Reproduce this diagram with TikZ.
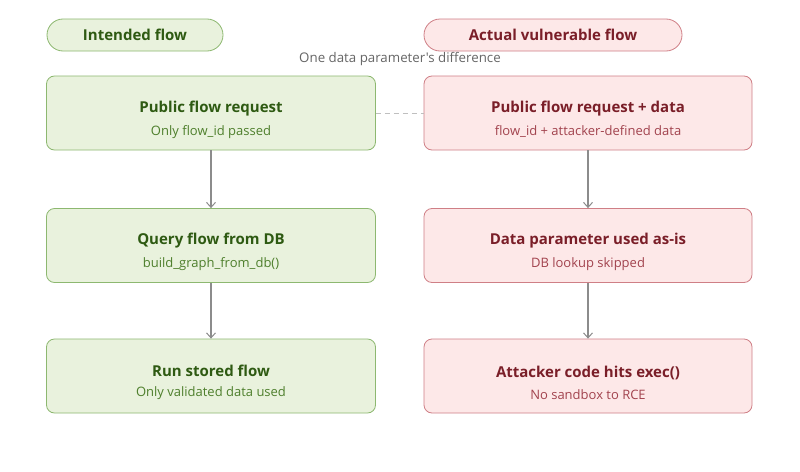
\documentclass[tikz,border=0pt]{standalone}
\usepackage{fontspec}
\setmainfont{Open Sans}[Ligatures=TeXOff]
\usetikzlibrary{arrows.meta}
\definecolor{gfill}{HTML}{E9F2DD}
\definecolor{gdraw}{HTML}{8DB870}
\definecolor{gtitle}{HTML}{2E5A12}
\definecolor{gsub}{HTML}{4E7F2C}
\definecolor{rfill}{HTML}{FDE8E8}
\definecolor{rdraw}{HTML}{CF7F86}
\definecolor{rtitle}{HTML}{7A1E28}
\definecolor{rsub}{HTML}{A2434E}
\tikzset{
  gbox/.style={draw=gdraw, fill=gfill, rounded corners=8pt, line width=0.8pt, minimum width=329pt, minimum height=74pt, inner sep=0pt},
  rbox/.style={draw=rdraw, fill=rfill, rounded corners=8pt, line width=0.8pt, minimum width=328pt, minimum height=74pt, inner sep=0pt},
  boxtext/.style={align=center, inner sep=0pt},
  gpill/.style={draw=gdraw, fill=gfill, rounded corners=16pt, line width=0.8pt, minimum width=176pt, minimum height=32pt, inner sep=0pt, text=gtitle, font=\fontsize{15}{18}\selectfont\bfseries},
  rpill/.style={draw=rdraw, fill=rfill, rounded corners=16pt, line width=0.8pt, minimum width=258pt, minimum height=32pt, inner sep=0pt, text=rtitle, font=\fontsize{15}{18}\selectfont\bfseries},
  flowarrow/.style={draw=black!45, line width=1.5pt, -{Straight Barb[length=5pt,width=9pt,line width=1pt]}},
}
\newcommand{\gtxt}[2]{{\color{gtitle}\fontsize{15}{18}\selectfont\bfseries #1}\\[8.5pt]{\color{gsub}\fontsize{13}{16}\selectfont #2}}
\newcommand{\rtxt}[2]{{\color{rtitle}\fontsize{15}{18}\selectfont\bfseries #1}\\[8.5pt]{\color{rsub}\fontsize{13}{16}\selectfont #2}}
\begin{document}
\begin{tikzpicture}[x=1pt,y=-1pt]
\useasboundingbox[fill=white] (0,0) rectangle (800,471);
\node[gpill] (gp) at (135,35) {Intended flow};
\node[rpill] (rp) at (553,35) {Actual vulnerable flow};
\node[text=black!60, font=\fontsize{13.3}{16}\selectfont] (diff) at (400,59) {One data parameter's difference};
\node[gbox] (g1) at (211,113) {};
\node[gbox] (g2) at (211,245.5) {};
\node[gbox] (g3) at (211,376) {};
\node[rbox] (r1) at (588,113) {};
\node[rbox] (r2) at (588,245.5) {};
\node[rbox] (r3) at (588,376) {};
\node[boxtext] (g1t) at ([yshift=-6.5pt]g1.center) {\gtxt{Public flow request}{Only flow\_id passed}};
\node[boxtext] (g2t) at ([yshift=-6.5pt]g2.center) {\gtxt{Query flow from DB}{build\_graph\_from\_db()}};
\node[boxtext] (g3t) at ([yshift=-6.5pt]g3.center) {\gtxt{Run stored flow}{Only validated data used}};
\node[boxtext] (r1t) at ([yshift=-6.5pt]r1.center) {\rtxt{Public flow request + data}{flow\_id + attacker-defined data}};
\node[boxtext] (r2t) at ([yshift=-6.5pt]r2.center) {\rtxt{Data parameter used as-is}{DB lookup skipped}};
\node[boxtext] (r3t) at ([yshift=-6.5pt]r3.center) {\rtxt{Attacker code hits exec()}{No sandbox to RCE}};
\draw[flowarrow] (g1) -- (g2);
\draw[flowarrow] (g2) -- (g3);
\draw[flowarrow] (r1) -- (r2);
\draw[flowarrow] (r2) -- (r3);
\draw[black!25, line width=1pt, dash pattern=on 5pt off 4pt] (g1.east) -- (r1.west);
\end{tikzpicture}
\end{document}
